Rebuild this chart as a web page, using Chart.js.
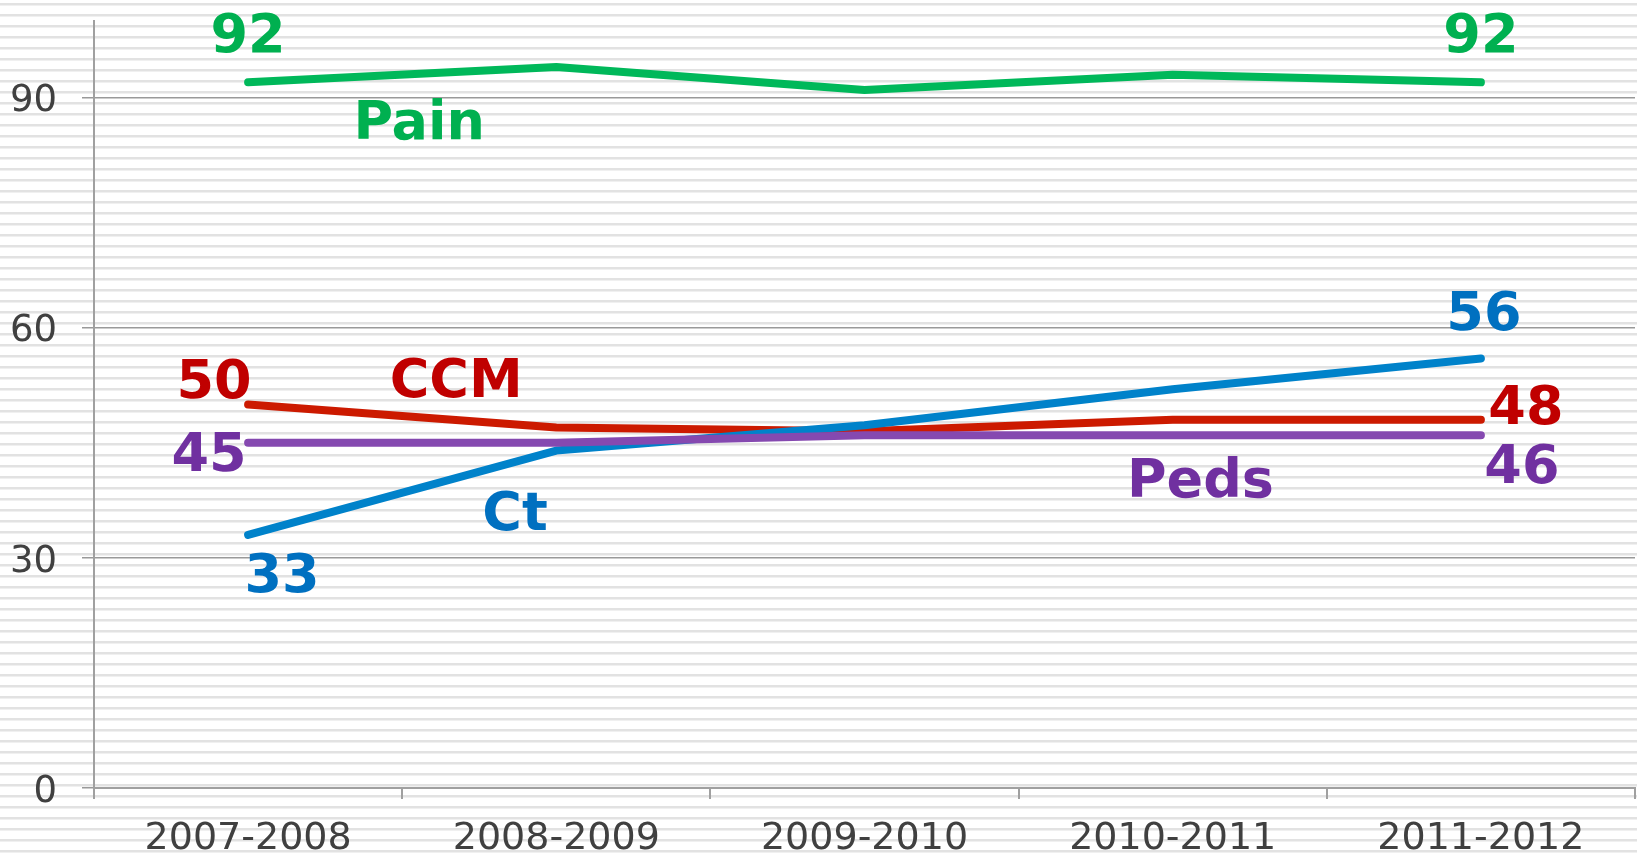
<!DOCTYPE html>
<html>
<head>
<meta charset="utf-8">
<script src="https://cdn.jsdelivr.net/npm/chart.js@4.4.1/dist/chart.umd.min.js"></script>
<style>
  html, body { margin: 0; padding: 0; background: #fff; }
  #wrap { width: 1637px; height: 856px; }
</style>
</head>
<body>
<div id="wrap"><canvas id="grafik" width="1637" height="856"></canvas></div>
<script>
// --- DATA ---
var tahun = ['2007-2008', '2008-2009', '2009-2010', '2010-2011', '2011-2012'];
var nilaiPain = [92, 94, 91, 93, 92];
var nilaiCCM = [50, 47, 46.5, 48, 48];
var nilaiCt = [33, 44, 47.3, 52, 56];
var nilaiPeds = [45, 45, 46, 46, 46];
var tickY = [0, 30, 60, 90];

// --- WARNA ---
var warnaGaris = { pain: '#00b85a', ccm: '#cc1a00', ct: '#0082ca', peds: '#8549b0' };
var warnaTeks = { pain: '#00b050', ccm: '#c00000', ct: '#0070c0', peds: '#7030a0' };

// label angka: menempel ke titik data (seri, index) + geser piksel
var labelAngka = [
  { seri: nilaiPain, i: 0, dx: 0, dy: -47, warna: warnaTeks.pain },
  { seri: nilaiPain, i: 4, dx: 0, dy: -47, warna: warnaTeks.pain },
  { seri: nilaiCCM, i: 0, dx: -34, dy: -24, warna: warnaTeks.ccm },
  { seri: nilaiCCM, i: 4, dx: 45, dy: -13, warna: warnaTeks.ccm },
  { seri: nilaiPeds, i: 0, dx: -39, dy: 11, warna: warnaTeks.peds },
  { seri: nilaiPeds, i: 4, dx: 41, dy: 31, warna: warnaTeks.peds },
  { seri: nilaiCt, i: 0, dx: 34, dy: 40, warna: warnaTeks.ct },
  { seri: nilaiCt, i: 4, dx: 3, dy: -46, warna: warnaTeks.ct }
];

// label nama seri: posisi di ruang data (index kategori, nilai)
var labelNama = [
  { teks: 'Pain', x: 0.555, y: 86.8, warna: warnaTeks.pain },
  { teks: 'CCM', x: 0.675, y: 53.2, warna: warnaTeks.ccm },
  { teks: 'Ct', x: 0.866, y: 35.9, warna: warnaTeks.ct },
  { teks: 'Peds', x: 3.09, y: 40.1, warna: warnaTeks.peds }
];

// --- PLUGIN LATAR BERGARIS ---
var latarBergaris = {
  id: 'latarBergaris',
  beforeDraw: function(chart) {
    var ctx = chart.ctx;
    ctx.save();
    ctx.fillStyle = '#ffffff';
    ctx.fillRect(0, 0, chart.width, chart.height);
    ctx.fillStyle = '#e2e2e2';
    for (var y = 3; y < chart.height; y += 11) {
      ctx.fillRect(0, y, chart.width, 2.5);
    }
    ctx.restore();
  }
};

// --- PLUGIN LABEL TEKS ---
// textBaseline 'middle' di DejaVu sedikit terlalu tinggi, jadi digeser 3px
var geserBaseline = 3;
var labelTeks = {
  id: 'labelTeks',
  afterDatasetsDraw: function(chart) {
    var ctx = chart.ctx;
    var sx = chart.scales.x, sy = chart.scales.y;
    ctx.save();
    ctx.font = 'bold 54px "DejaVu Sans"';
    ctx.textAlign = 'center';
    ctx.textBaseline = 'middle';
    labelAngka.forEach(function(l) {
      var v = l.seri[l.i];
      ctx.fillStyle = l.warna;
      ctx.fillText(String(Math.round(v)), sx.getPixelForValue(l.i) + l.dx, sy.getPixelForValue(v) + l.dy + geserBaseline);
    });
    labelNama.forEach(function(l) {
      ctx.fillStyle = l.warna;
      ctx.fillText(l.teks, sx.getPixelForValue(l.x), sy.getPixelForValue(l.y) + geserBaseline);
    });
    ctx.restore();
  }
};

function buatSeri(label, data, warna) {
  return {
    label: label,
    data: data,
    borderColor: warna,
    backgroundColor: warna,
    borderWidth: 8,
    borderCapStyle: 'round',
    borderJoinStyle: 'round',
    pointRadius: 0,
    tension: 0,
    fill: false
  };
}

var ctx = document.getElementById('grafik').getContext('2d');
var chartGaris = new Chart(ctx, {
  type: 'line',
  data: {
    labels: tahun,
    datasets: [
      buatSeri('Peds', nilaiPeds, warnaGaris.peds),
      buatSeri('Ct', nilaiCt, warnaGaris.ct),
      buatSeri('CCM', nilaiCCM, warnaGaris.ccm),
      buatSeri('Pain', nilaiPain, warnaGaris.pain)
    ]
  },
  options: {
    responsive: false,
    animation: false,
    layout: { padding: { top: 21, right: 2, left: 0, bottom: 0 } },
    plugins: {
      legend: { display: false },
      tooltip: { enabled: false }
    },
    scales: {
      x: {
        offset: true,
        grid: {
          offset: true,
          drawOnChartArea: false,
          drawTicks: true,
          tickLength: 11,
          color: '#a0a0a0',
          lineWidth: 2
        },
        border: { color: '#a0a0a0', width: 2 },
        ticks: {
          color: '#404040',
          font: { family: 'DejaVu Sans', size: 38 },
          padding: 17,
          maxRotation: 0,
          autoSkip: false
        },
        afterFit: function(scale) {
          scale.height = 68;
          scale.paddingLeft = 0;
          scale.paddingRight = 0;
        }
      },
      y: {
        min: 0,
        max: 100,
        grid: {
          color: '#999999',
          lineWidth: 1.5,
          tickLength: 12
        },
        border: { color: '#a0a0a0', width: 2 },
        ticks: {
          color: '#404040',
          font: { family: 'DejaVu Sans', size: 37 },
          padding: 25,
          labelOffset: 4
        },
        afterBuildTicks: function(scale) {
          scale.ticks = tickY.map(function(v) { return { value: v }; });
        },
        afterFit: function(scale) {
          scale.width = 94;
          scale.paddingTop = 0;
          scale.paddingBottom = 0;
        }
      }
    }
  },
  plugins: [latarBergaris, labelTeks]
});
</script>
</body>
</html>
